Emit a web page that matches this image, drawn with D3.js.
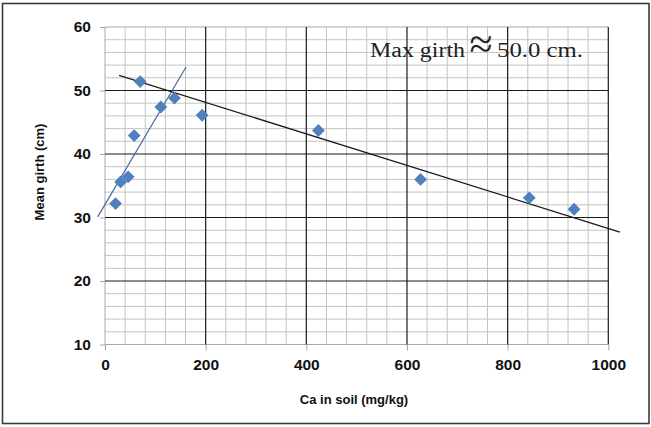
<!DOCTYPE html>
<html><head><meta charset="utf-8">
<script src="https://cdn.jsdelivr.net/npm/d3@7"></script>
<style>body{margin:0;background:#fff}svg{display:block}</style>
</head><body>
<svg id="c" width="651" height="427"></svg>
<script>
const caValues = [21, 31, 46, 58, 70, 111, 138, 193, 424, 627, 843, 932];
const girthValues = [32.2, 35.6, 36.4, 42.9, 51.4, 47.4, 48.8, 46.1, 43.7, 36.0, 33.1, 31.3];
const xTicks = [0, 200, 400, 600, 800, 1000];
const yTicks = [10, 20, 30, 40, 50, 60];
// trend lines: [x0, y0, x1, y1] in data units
const risingLine = [-14.5, 30.1, 161, 53.7];
const fallingLine = [28, 52.4, 1023, 27.7];
const annotationA = "Max girth";
const annotationSym = "≈";
const annotationB = "50.0 cm.";

const svg = d3.select("#c");
const x = d3.scaleLinear().domain([0, 1000]).range([105, 608.3]);
const y = d3.scaleLinear().domain([10, 60]).range([344.5, 27]);

svg.append("rect").attr("x", 2.5).attr("y", 3.5).attr("width", 646.5).attr("height", 420)
  .attr("fill", "#fff").attr("stroke", "#3a3a3a").attr("stroke-width", 1.6);

const g = svg.append("g");
// minor grid
const xMinor = d3.range(0, 1001, 40).filter(v => v % 200 !== 0);
const yMinor = d3.range(10, 61, 2).filter(v => v % 10 !== 0);
g.selectAll(".xm").data(xMinor).join("line")
  .attr("x1", d => x(d)).attr("x2", d => x(d)).attr("y1", y(10)).attr("y2", y(60))
  .attr("stroke", "#c4c4c4").attr("stroke-width", 1);
g.selectAll(".ym").data(yMinor).join("line")
  .attr("y1", d => y(d)).attr("y2", d => y(d)).attr("x1", x(0)).attr("x2", x(1000))
  .attr("stroke", "#c4c4c4").attr("stroke-width", 1);
// axis borders
g.append("line").attr("x1", x(0)).attr("x2", x(1000)).attr("y1", y(60)).attr("y2", y(60)).attr("stroke", "#a8a8a8");
g.append("line").attr("x1", x(0)).attr("x2", x(1000)).attr("y1", y(10)).attr("y2", y(10)).attr("stroke", "#a8a8a8");
g.append("line").attr("x1", x(0)).attr("x2", x(0)).attr("y1", y(10)).attr("y2", y(60)).attr("stroke", "#a8a8a8");
// major grid
g.selectAll(".xM").data(xTicks.filter(v => v > 0)).join("line")
  .attr("x1", d => x(d)).attr("x2", d => x(d)).attr("y1", y(10)).attr("y2", y(60))
  .attr("stroke", "#1a1a1a").attr("stroke-width", 1.2);
g.selectAll(".yM").data(yTicks.filter(v => v > 10 && v < 60)).join("line")
  .attr("y1", d => y(d)).attr("y2", d => y(d)).attr("x1", x(0)).attr("x2", x(1000))
  .attr("stroke", "#1a1a1a").attr("stroke-width", 1.2);

// axes
const font = "'Liberation Sans', Arial, sans-serif";
const xAxis = svg.append("g").attr("transform", `translate(0,${y(10)})`)
  .call(d3.axisBottom(x).tickValues(xTicks).tickSize(6).tickPadding(8).tickFormat(d3.format("d")));
const yAxis = svg.append("g").attr("transform", `translate(${x(0)},0)`)
  .call(d3.axisLeft(y).tickValues(yTicks).tickSize(5).tickPadding(9).tickFormat(d3.format("d")));
[xAxis, yAxis].forEach(a => {
  a.select(".domain").remove();
  a.selectAll(".tick line").attr("stroke", "#a8a8a8");
  a.selectAll(".tick text").attr("font-family", font).attr("font-weight", "bold")
    .attr("font-size", 15.5).attr("fill", "#111");
});

// trend lines
svg.append("line").attr("x1", x(risingLine[0])).attr("y1", y(risingLine[1]))
  .attr("x2", x(risingLine[2])).attr("y2", y(risingLine[3]))
  .attr("stroke", "#4a6c9c").attr("stroke-width", 1.2);
svg.append("line").attr("x1", x(fallingLine[0])).attr("y1", y(fallingLine[1]))
  .attr("x2", x(fallingLine[2])).attr("y2", y(fallingLine[3]))
  .attr("stroke", "#1a1a1a").attr("stroke-width", 1.3);

// points (diamonds)
const pts = caValues.map((c, i) => [c, girthValues[i]]);
svg.selectAll(".pt").data(pts).join("path")
  .attr("d", d3.symbol().type(d3.symbolSquare).size(82))
  .attr("transform", d => `translate(${x(d[0])},${y(d[1])}) rotate(45)`)
  .attr("fill", "#4f81bd");

// titles
svg.append("text").attr("x", 354).attr("y", 404).attr("text-anchor", "middle")
  .attr("font-family", font).attr("font-weight", "bold").attr("font-size", 13).attr("fill", "#111")
  .text("Ca in soil (mg/kg)");
svg.append("text").attr("transform", "translate(44,172) rotate(-90)").attr("text-anchor", "middle")
  .attr("font-family", font).attr("font-weight", "bold").attr("font-size", 13).attr("fill", "#111")
  .text("Mean girth (cm)");

// annotation
const serif = "'Liberation Serif', 'Times New Roman', serif";
svg.append("text").attr("x", 370).attr("y", 57).attr("font-family", serif).attr("font-size", 20.5)
  .attr("fill", "#222").attr("textLength", 95).attr("lengthAdjust", "spacingAndGlyphs").text(annotationA);
svg.append("text").attr("x", 481).attr("y", 58).attr("text-anchor", "middle").attr("font-family", serif)
  .attr("font-size", 42).attr("fill", "#222").text(annotationSym);
svg.append("text").attr("x", 497).attr("y", 57).attr("font-family", serif).attr("font-size", 20.5)
  .attr("fill", "#222").attr("textLength", 86).attr("lengthAdjust", "spacingAndGlyphs").text(annotationB);
</script>
</body></html>
